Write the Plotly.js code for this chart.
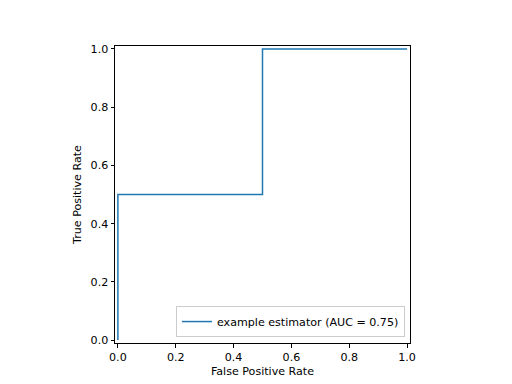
<!DOCTYPE html>
<html>
<head>
<meta charset="utf-8">
<script src="https://cdn.plot.ly/plotly-3.0.1.min.js"></script>
<style>html,body{margin:0;padding:0;background:#fff;}#plot{width:512px;height:384px;}</style>
</head>
<body>
<div id="plot"></div>
<script>
const fpr = [0.0, 0.0, 0.5, 0.5, 1.0];
const tpr = [0.0, 0.5, 0.5, 1.0, 1.0];
const seriesName = "example estimator (AUC = 0.75)";
const tickVals = [0.0, 0.2, 0.4, 0.6, 0.8, 1.0];
const tickText = ["0.0", "0.2", "0.4", "0.6", "0.8", "1.0"];

const font = {family: "DejaVu Sans, sans-serif", size: 11.1, color: "#000"};
const axisCommon = {
  showline: true, mirror: true, linecolor: "#000", linewidth: 1,
  ticks: "outside", ticklen: 3.5, tickwidth: 1, tickcolor: "#000",
  showgrid: false, zeroline: false,
  tickvals: tickVals, ticktext: tickText,
  tickfont: font, range: [-0.01, 1.01]
};
Plotly.newPlot("plot", [{
  x: fpr, y: tpr, type: "scatter", mode: "lines",
  name: seriesName, showlegend: true,
  line: {color: "#1f77b4", width: 1.5, shape: "linear"}
}], {
  width: 512, height: 384,
  margin: {l: 115, r: 102, t: 46, b: 41},
  paper_bgcolor: "#fff", plot_bgcolor: "#fff",
  font: font,
  xaxis: Object.assign({}, axisCommon, {title: {text: "False Positive Rate", font: font, standoff: 4}}),
  yaxis: Object.assign({}, axisCommon, {title: {text: "True Positive Rate", font: font, standoff: 6}}),
  legend: {x: 0.983, y: 0.02, xanchor: "right", yanchor: "bottom",
    bordercolor: "#ccc", borderwidth: 1, bgcolor: "rgba(255,255,255,0.8)",
    font: font, tracegroupgap: 0, itemwidth: 30}
}, {staticPlot: true});
</script>
</body>
</html>
